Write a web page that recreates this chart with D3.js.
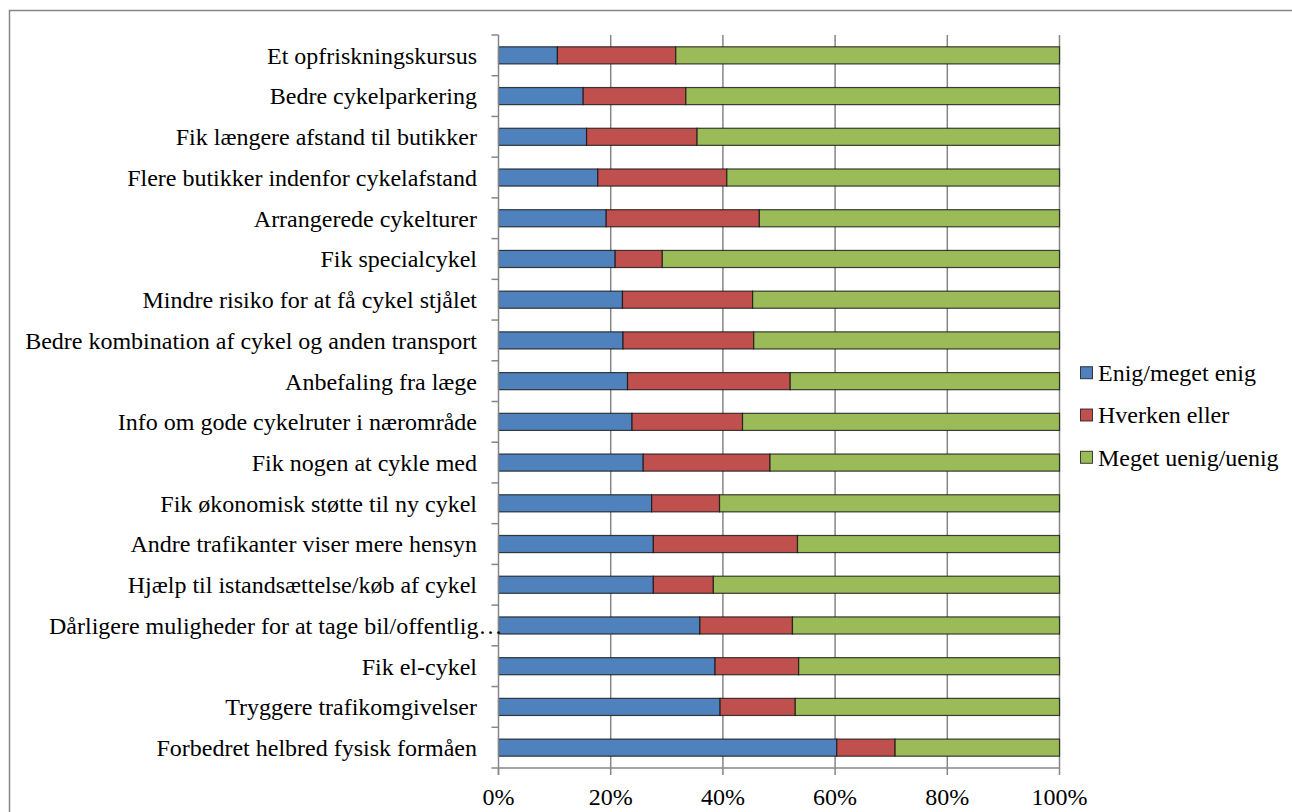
<!DOCTYPE html>
<html>
<head>
<meta charset="utf-8">
<script src="https://cdn.jsdelivr.net/npm/d3@7"></script>
<style>
  html, body { margin: 0; padding: 0; background: #fff; }
  svg { display: block; }
</style>
</head>
<body>
<svg id="chart" width="1292" height="812" font-family="'Liberation Serif', 'Times New Roman', Times, 'DejaVu Serif', serif"></svg>
<script>
const categories = [
  "Et opfriskningskursus",
  "Bedre cykelparkering",
  "Fik længere afstand til butikker",
  "Flere butikker indenfor cykelafstand",
  "Arrangerede cykelturer",
  "Fik specialcykel",
  "Mindre risiko for at få cykel stjålet",
  "Bedre kombination af cykel og anden transport",
  "Anbefaling fra læge",
  "Info om gode cykelruter i nærområde",
  "Fik nogen at cykle med",
  "Fik økonomisk støtte til ny cykel",
  "Andre trafikanter viser mere hensyn",
  "Hjælp til istandsættelse/køb af cykel",
  "Dårligere muligheder for at tage bil/offentlig…",
  "Fik el-cykel",
  "Tryggere trafikomgivelser",
  "Forbedret helbred fysisk formåen"
];
const enig     = [10.5, 15.1, 15.7, 17.7, 19.2, 20.8, 22.1, 22.2, 23.0, 23.8, 25.8, 27.3, 27.6, 27.6, 35.9, 38.6, 39.5, 60.3];
const hverken  = [21.1, 18.3, 19.7, 23.0, 27.3,  8.4, 23.2, 23.3, 29.0, 19.7, 22.6, 12.1, 25.7, 10.7, 16.5, 14.9, 13.4, 10.4];
const uenig    = [68.4, 66.6, 64.6, 59.3, 53.5, 70.8, 54.7, 54.5, 48.0, 56.5, 51.6, 60.6, 46.7, 61.7, 47.6, 46.5, 47.1, 29.3];
const seriesNames = ["Enig/meget enig", "Hverken eller", "Meget uenig/uenig"];
const seriesColors = ["#4F81BD", "#C0504D", "#9BBB59"];
const xTicks = [0, 20, 40, 60, 80, 100];

const FONT = "'Liberation Serif', 'Times New Roman', Times, 'DejaVu Serif', serif";
const svg = d3.select("#chart");
const fontSize = 24;

// outer chart frame
svg.append("rect")
  .attr("x", 9.5).attr("y", 10.5)
  .attr("width", 1300).attr("height", 820)
  .attr("fill", "#fff").attr("stroke", "#868686").attr("stroke-width", 1.5);

const plotLeft = 498.5, plotRight = 1059.5, plotTop = 35, plotBottom = 768;

const x = d3.scaleLinear().domain([0, 100]).range([plotLeft, plotRight]);
const y = d3.scaleBand().domain(categories).range([plotTop, plotBottom])
  .paddingInner(0.58).paddingOuter(0.29);

// gridlines
svg.append("g")
  .selectAll("line")
  .data(xTicks.filter(d => d > 0))
  .join("line")
  .attr("x1", d => x(d)).attr("x2", d => x(d))
  .attr("y1", plotTop).attr("y2", plotBottom)
  .attr("stroke", "#868686").attr("stroke-width", 1.5);

// stacked data
const table = categories.map((c, i) => ({ cat: c, s0: enig[i], s1: hverken[i], s2: uenig[i] }));
const stack = d3.stack().keys(["s0", "s1", "s2"])(table);

svg.append("g")
  .selectAll("g")
  .data(stack)
  .join("g")
  .attr("fill", (d, i) => seriesColors[i])
  .selectAll("rect")
  .data(d => d)
  .join("rect")
  .attr("x", d => x(d[0]))
  .attr("width", d => x(d[1]) - x(d[0]))
  .attr("y", d => y(d.data.cat))
  .attr("height", y.bandwidth())
  .attr("stroke", "rgba(20,20,20,0.8)")
  .attr("stroke-width", 1.2);

// y axis line and ticks at category boundaries
const yAxisG = svg.append("g");
yAxisG.append("line")
  .attr("x1", plotLeft).attr("x2", plotLeft).attr("y1", plotTop).attr("y2", plotBottom + 7)
  .attr("stroke", "#868686").attr("stroke-width", 1.5);
const boundaries = d3.range(categories.length + 1).map(i => plotTop + i * y.step());
yAxisG.selectAll("line.tk")
  .data(boundaries)
  .join("line").attr("class", "tk")
  .attr("x1", plotLeft - 7).attr("x2", plotLeft)
  .attr("y1", d => d).attr("y2", d => d)
  .attr("stroke", "#868686").attr("stroke-width", 1.5);

// category labels (truncated labels, ending in "…", fill the label area from its left edge)
const labelX = 477;
const labelAreaLeft = 49;
yAxisG.selectAll("text.lab")
  .data(categories)
  .join("text").attr("class", "lab")
  .attr("font-family", FONT)
  .attr("x", d => d.endsWith("…") ? labelAreaLeft : labelX)
  .attr("y", d => y(d) + y.bandwidth() / 2)
  .attr("dy", "0.35em")
  .attr("text-anchor", d => d.endsWith("…") ? "start" : "end")
  .attr("font-size", fontSize)
  .attr("fill", "#000")
  .text(d => d);

// x axis
const xAxisG = svg.append("g");
xAxisG.append("line")
  .attr("x1", plotLeft).attr("x2", plotRight).attr("y1", plotBottom).attr("y2", plotBottom)
  .attr("stroke", "#868686").attr("stroke-width", 1.5);
xAxisG.selectAll("line.tk")
  .data(xTicks)
  .join("line").attr("class", "tk")
  .attr("x1", d => x(d)).attr("x2", d => x(d))
  .attr("y1", plotBottom).attr("y2", plotBottom + 7)
  .attr("stroke", "#868686").attr("stroke-width", 1.5);
xAxisG.selectAll("text")
  .data(xTicks)
  .join("text")
  .attr("font-family", FONT)
  .attr("x", d => x(d))
  .attr("y", 805)
  .attr("text-anchor", "middle")
  .attr("font-size", fontSize)
  .attr("fill", "#000")
  .text(d => d + "%");

// legend
const legend = svg.append("g");
const legY = [372.7, 415, 457.3];
seriesNames.forEach((n, i) => {
  legend.append("rect")
    .attr("x", 1080.5).attr("y", legY[i] - 6)
    .attr("width", 12).attr("height", 12)
    .attr("fill", seriesColors[i])
    .attr("stroke", "rgba(20,20,20,0.8)").attr("stroke-width", 1);
  legend.append("text")
    .attr("font-family", FONT)
    .attr("x", 1098).attr("y", legY[i])
    .attr("dy", "0.35em")
    .attr("font-size", fontSize)
    .attr("fill", "#000")
    .text(n);
});
</script>
</body>
</html>
